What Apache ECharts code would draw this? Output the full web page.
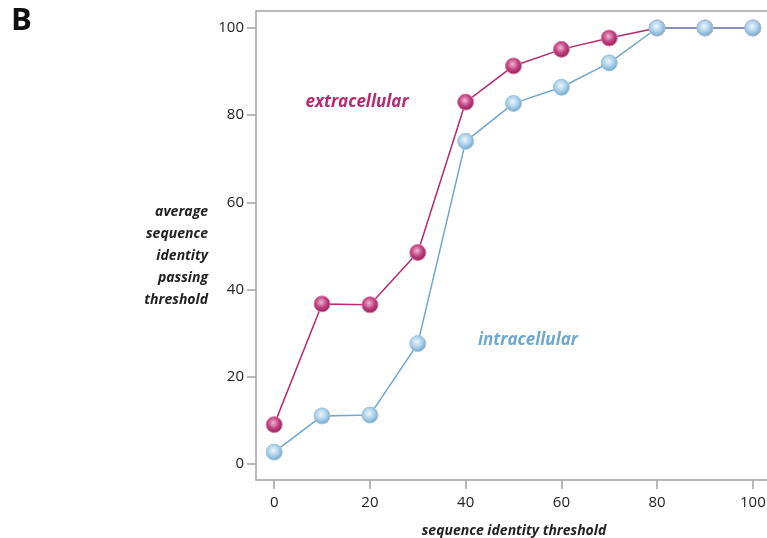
<!DOCTYPE html>
<html><head><meta charset="utf-8">
<script src="https://cdn.jsdelivr.net/npm/echarts@6/dist/echarts.min.js"></script>
<style>html,body{margin:0;padding:0;background:#fff}#c{width:767px;height:538px}</style>
</head><body><div id="c"></div>
<script>
const thresholds = [0, 10, 20, 30, 40, 50, 60, 70, 80, 90, 100];
const extracellular = [9.0, 36.7, 36.5, 48.5, 83.0, 91.3, 95.1, 97.7, 100, 100, 100];
const intracellular = [2.7, 11.0, 11.2, 27.6, 74.0, 82.7, 86.4, 92.0, 100, 100, 100];
const xTicks = [0, 20, 40, 60, 80, 100];
const yTicks = [0, 20, 40, 60, 80, 100];

const FONT = '"Open Sans", "Noto Sans", sans-serif';
const chart = echarts.init(document.getElementById('c'), null, {renderer: 'canvas'});

function ball(light, mid, dark) {
  return {type: 'radial', x: 0.45, y: 0.4, r: 0.6,
    colorStops: [{offset: 0, color: light}, {offset: 0.55, color: mid}, {offset: 1, color: dark}]};
}
const AXIS_LINE = {show: true, onZero: false, lineStyle: {color: '#a3a3a3', width: 1.5}};

chart.setOption({
  animation: false,
  grid: {left: 256, top: 11, width: 516, height: 469, outerBoundsMode: 'none', containLabel: false, show: false},
  xAxis: [{
    type: 'value', min: -3.8, max: 104,
    name: 'sequence identity threshold', nameLocation: 'middle', nameGap: 44,
    nameTextStyle: {fontFamily: FONT, fontWeight: 'bold', fontStyle: 'italic', fontSize: 14, color: '#222'},
    axisLine: AXIS_LINE,
    axisTick: {show: true, customValues: xTicks, length: 9, lineStyle: {color: '#a3a3a3', width: 1.5}},
    axisLabel: {customValues: xTicks, fontFamily: FONT, fontSize: 15, color: '#222', margin: 15},
    splitLine: {show: false}
  }, {
    type: 'value', position: 'top', min: -3.8, max: 104,
    axisLine: AXIS_LINE, axisTick: {show: false}, axisLabel: {show: false}, splitLine: {show: false}
  }],
  yAxis: {
    type: 'value', min: -3.7, max: 103.9,
    name: '\naverage\nsequence\nidentity\npassing\nthreshold', nameLocation: 'middle', nameGap: 48, nameRotate: 0,
    nameTextStyle: {fontFamily: FONT, fontWeight: 'bold', fontStyle: 'italic', fontSize: 14, color: '#222', align: 'right', lineHeight: 22},
    axisLine: AXIS_LINE,
    axisTick: {show: true, customValues: yTicks, length: 9, lineStyle: {color: '#a3a3a3', width: 1.5}},
    axisLabel: {customValues: yTicks, fontFamily: FONT, fontSize: 15, color: '#222', margin: 12},
    splitLine: {show: false}
  },
  series: [
    {
      name: 'extracellular', type: 'line',
      data: thresholds.map((t, i) => [t, extracellular[i]]),
      lineStyle: {color: '#b8296f', width: 1.5},
      symbol: 'circle', symbolSize: 16,
      itemStyle: {color: ball('#f0b7d2', '#c23f80', '#8e1c54'), borderColor: '#d77aa6', borderWidth: 1},
      z: 2
    },
    {
      name: 'intracellular', type: 'line',
      data: thresholds.map((t, i) => [t, intracellular[i]]),
      lineStyle: {color: '#6ea7d0', width: 1.5},
      symbol: 'circle', symbolSize: 16,
      itemStyle: {color: ball('#eef6fc', '#a9cfe9', '#6ea3c9'), borderColor: '#9cc6e3', borderWidth: 1},
      z: 3
    }
  ],
  graphic: [
    {type: 'text', left: 11, top: 6, style: {text: 'B', font: 'bold 31px ' + FONT, fill: '#111'}},
    {type: 'text', x: 357, y: 102, style: {text: 'extracellular', font: 'italic bold 17px ' + FONT, fill: '#b8296f', align: 'center', verticalAlign: 'middle'}},
    {type: 'text', x: 528, y: 340, style: {text: 'intracellular', font: 'italic bold 17px ' + FONT, fill: '#6ea7d0', align: 'center', verticalAlign: 'middle'}}
  ]
});
</script></body></html>
